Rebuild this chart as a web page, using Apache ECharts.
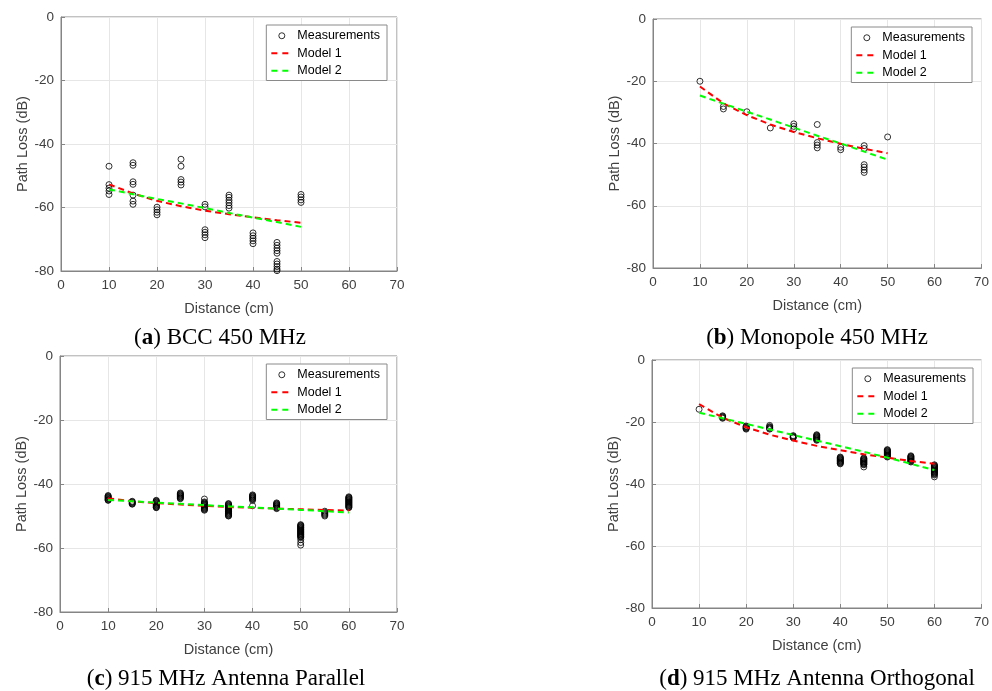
<!DOCTYPE html>
<html>
<head>
<meta charset="utf-8">
<script src="https://cdn.jsdelivr.net/npm/echarts@6/dist/echarts.min.js"></script>
<style>html,body{margin:0;padding:0;background:#fff;}#c{width:992px;height:691px;}</style>
</head>
<body>
<div id="c"></div>
<script>
// ---- data ----
var xTicks = [0, 10, 20, 30, 40, 50, 60, 70];
var yTicks = [0, -20, -40, -60, -80];
var seriesNames = ['Measurements', 'Model 1', 'Model 2'];
var captionsLetter = ['a', 'b', 'c', 'd'];
var captionsText = [' BCC 450 MHz', ' Monopole 450 MHz', ' 915 MHz Antenna Parallel', ' 915 MHz Antenna Orthogonal'];

var distAB = [10, 15, 20, 25, 30, 35, 40, 45, 50];
var distCD = [10, 15, 20, 25, 30, 35, 40, 45, 50, 55, 60];

// measurements: distance -> list of path loss values (dB)
var measA = {
  10: [-47, -52.8, -53.9, -54.8, -55.9],
  15: [-45.9, -46.7, -51.9, -52.7, -56.1, -58, -59],
  20: [-59.9, -60.7, -61.5, -62.3],
  25: [-44.8, -47, -51.2, -52, -52.9],
  30: [-59, -59.8, -67, -67.8, -68.6, -69.5],
  35: [-56.1, -56.8, -57.7, -58.5, -59.4, -60.2],
  40: [-68, -68.9, -69.7, -70.5, -71.4],
  45: [-71, -71.9, -72.8, -73.6, -74.4, -77, -77.8, -78.6, -79.4, -79.9],
  50: [-55.9, -56.7, -57.6, -58.4]
};
var model1A = [-52.7, -55.6, -57.9, -59.6, -61.0, -62.1, -63.1, -64.0, -64.8];
var model2A = [-54.3, -55.8, -57.3, -58.7, -60.2, -61.7, -63.2, -64.6, -66.1];

var measB = {
  10: [-20],
  15: [-28.1, -28.9],
  20: [-29.8],
  25: [-35],
  30: [-33.7, -34.5, -35.3],
  35: [-33.9, -39.7, -40.5, -41.4],
  40: [-41.2, -42],
  45: [-40.7, -41.6, -46.8, -47.6, -48.5, -49.3],
  50: [-37.9]
};
var model1B = [-21.7, -27.1, -30.9, -33.9, -36.3, -38.3, -40.1, -41.7, -43.1];
var model2B = [-24.6, -27.2, -29.8, -32.3, -34.9, -37.5, -40.0, -42.6, -45.2];

var measC = {
  10: [-43.6, -43.8, -44, -44.2, -44.4, -44.6, -44.8, -45, -45.1],
  15: [-45.4, -45.6, -45.8, -46, -46.2, -46.3],
  20: [-45.1, -45.3, -45.5, -45.7, -45.9, -46.1, -46.3, -46.5, -46.7, -46.9, -47.1, -47.3, -47.4],
  25: [-42.8, -43, -43.2, -43.4, -43.6, -43.8, -44, -44.2, -44.4, -44.6],
  30: [-44.7, -45.6, -45.8, -46, -46.2, -46.4, -46.6, -46.8, -47, -47.2, -47.4, -47.6, -47.8, -48, -48.2],
  35: [-46.1, -46.3, -46.5, -46.7, -46.9, -47.1, -47.3, -47.5, -47.7, -47.9, -48.1, -48.3, -48.5, -48.7, -48.9, -49.1, -49.3, -49.5, -49.7, -49.9, -50],
  40: [-43.4, -43.6, -43.8, -44, -44.2, -44.4, -44.6, -44.8, -45.1, -46.8],
  45: [-45.9, -46.1, -46.3, -46.5, -46.7, -46.9, -47.1, -47.3, -47.5, -47.7],
  50: [-52.7, -52.9, -53.1, -53.3, -53.5, -53.7, -53.9, -54.1, -54.3, -54.5, -54.7, -54.9, -55.1, -55.3, -55.5, -55.7, -55.9, -56.1, -56.3, -56.5, -56.7, -57.4, -58.3, -59.1],
  55: [-48.5, -48.8, -49.1, -49.4, -49.7, -50],
  60: [-44, -44.2, -44.4, -44.6, -44.8, -45, -45.2, -45.4, -45.6, -45.8, -46, -46.2, -46.4, -46.6, -46.8, -47, -47.2, -47.4]
};
var model1C = [-44.5, -45.4, -46.0, -46.4, -46.8, -47.2, -47.4, -47.7, -47.9, -48.1, -48.3];
var model2C = [-45.0, -45.4, -45.8, -46.2, -46.6, -47.0, -47.3, -47.7, -48.1, -48.5, -48.9];

var measD = {
  10: [-15.9],
  15: [-18, -18.2, -18.4, -18.6, -18.8],
  20: [-21.3, -21.5, -21.7, -21.9, -22.1, -22.3],
  25: [-21.1, -21.5, -21.7, -21.9, -22.1, -22.3],
  30: [-24.4, -24.6, -24.8, -25, -25.1],
  35: [-24.1, -24.3, -24.5, -24.7, -24.9, -25.1, -25.3, -25.5, -25.7, -25.9],
  40: [-31.3, -31.5, -31.7, -31.9, -32.1, -32.3, -32.5, -32.7, -32.9, -33.1, -33.3, -33.5],
  45: [-31.6, -31.8, -32, -32.2, -32.4, -32.6, -32.8, -33, -33.2, -33.4, -33.6, -33.8, -34.5],
  50: [-28.9, -29.1, -29.3, -29.5, -29.7, -29.9, -30.1, -30.3, -30.5, -30.7, -30.9, -31.1, -31.3],
  55: [-30.9, -31.1, -31.3, -31.5, -31.7, -31.9, -32.1, -32.3, -32.5, -32.7, -32.9],
  60: [-33.8, -34, -34.2, -34.4, -34.6, -34.8, -35, -35.2, -35.4, -35.6, -35.8, -36, -36.2, -36.4, -36.6, -36.8, -37.1, -37.7]
};
var model1D = [-14.2, -18.6, -21.7, -24.1, -26.0, -27.7, -29.1, -30.4, -31.5, -32.6, -33.5];
var model2D = [-17.0, -18.8, -20.6, -22.4, -24.2, -26.0, -27.8, -29.6, -31.5, -33.5, -35.5];

// ---- layout ----
var grids = [
  {left: 61, top: 17, width: 336, height: 254},
  {left: 653, top: 19, width: 329, height: 249},
  {left: 60, top: 356, width: 337, height: 256},
  {left: 652, top: 360, width: 331, height: 248}
];
var panels = [
  {meas: measA, dist: distAB, m1: model1A, m2: model2A},
  {meas: measB, dist: distAB, m1: model1B, m2: model2B},
  {meas: measC, dist: distCD, m1: model1C, m2: model2C},
  {meas: measD, dist: distCD, m1: model1D, m2: model2D}
];
var captionPos = [[220, 338], [817, 338], [226, 679], [817, 679]];

var axisGray = '#858585';
var labelColor = '#404040';
var sans = 'Liberation Sans, Arial, Helvetica, sans-serif';

function pairs(xs, ys) {
  var out = [];
  for (var i = 0; i < xs.length; i++) out.push([xs[i], ys[i]]);
  return out;
}
function flatten(meas) {
  var out = [];
  Object.keys(meas).forEach(function (k) {
    meas[k].forEach(function (v) { out.push([Number(k), v]); });
  });
  return out;
}

var option = {
  animation: false,
  backgroundColor: '#fff',
  grid: [], xAxis: [], yAxis: [], series: [], legend: [], graphic: []
};

grids.forEach(function (g, i) {
  option.grid.push({left: g.left, top: g.top, width: g.width, height: g.height,
    show: true, borderColor: axisGray, borderWidth: 1, backgroundColor: '#fff', containLabel: false});
  option.xAxis.push({
    type: 'value', gridIndex: i, min: xTicks[0], max: xTicks[xTicks.length - 1], interval: 10,
    name: 'Distance (cm)', nameLocation: 'middle', nameGap: 30,
    nameTextStyle: {fontFamily: sans, fontSize: 14.5, color: labelColor},
    axisLine: {show: true, onZero: false, lineStyle: {color: axisGray, width: 1}},
    axisTick: {show: true, inside: true, length: 4, lineStyle: {color: axisGray}},
    axisLabel: {fontFamily: sans, fontSize: 13.5, color: labelColor, margin: 7},
    splitLine: {show: true, lineStyle: {color: '#e6e6e6', width: 1}}
  });
  option.yAxis.push({
    type: 'value', gridIndex: i, min: yTicks[yTicks.length - 1], max: yTicks[0], interval: 20,
    name: 'Path Loss (dB)', nameLocation: 'middle', nameGap: 31, nameRotate: 90,
    nameTextStyle: {fontFamily: sans, fontSize: 14.5, color: labelColor},
    axisLine: {show: true, onZero: false, lineStyle: {color: axisGray, width: 1}},
    axisTick: {show: true, inside: true, length: 4, lineStyle: {color: axisGray}},
    axisLabel: {fontFamily: sans, fontSize: 13.5, color: labelColor, margin: 7},
    splitLine: {show: true, lineStyle: {color: '#e6e6e6', width: 1}}
  });
  var p = panels[i];
  option.series.push({
    name: seriesNames[0], type: 'scatter', xAxisIndex: i, yAxisIndex: i,
    symbol: 'circle', symbolSize: 6, data: flatten(p.meas), z: 3,
    itemStyle: {color: 'rgba(255,255,255,0)', borderColor: '#000', borderWidth: 1}
  });
  option.series.push({
    name: seriesNames[1], type: 'line', xAxisIndex: i, yAxisIndex: i, smooth: false,
    showSymbol: false, symbol: 'none', data: pairs(p.dist, p.m1), z: 4,
    lineStyle: {color: '#ff0000', width: 2, type: [6, 4]}, itemStyle: {color: '#ff0000'}
  });
  option.series.push({
    name: seriesNames[2], type: 'line', xAxisIndex: i, yAxisIndex: i, smooth: false,
    showSymbol: false, symbol: 'none', data: pairs(p.dist, p.m2), z: 5,
    lineStyle: {color: '#00ff00', width: 2, type: [6, 4]}, itemStyle: {color: '#00ff00'}
  });
  option.legend.push({
    data: [
      {name: seriesNames[0]},
      {name: seriesNames[1], itemStyle: {opacity: 0}},
      {name: seriesNames[2], itemStyle: {opacity: 0}}
    ],
    orient: 'vertical',
    right: 992 - (g.left + g.width) + 10, top: g.top + 8,
    backgroundColor: '#fff', borderColor: '#8a8a8a', borderWidth: 1,
    padding: [4, 7, 3, 4], itemGap: 4, itemWidth: 21, itemHeight: 6,
    selectedMode: false,
    textStyle: {fontFamily: sans, fontSize: 12.5, color: '#000', lineHeight: 13.5},
    itemStyle: {borderWidth: 1},
    lineStyle: {width: 2, type: [6, 5]}
  });
  option.graphic.push({
    type: 'text', x: captionPos[i][0], y: captionPos[i][1],
    style: {
      text: '({b|' + captionsLetter[i] + '})' + captionsText[i],
      fill: '#000', font: '23px "Liberation Serif", "DejaVu Serif", serif',
      align: 'center', verticalAlign: 'middle',
      rich: {b: {fontWeight: 'bold', fontSize: 23, fontFamily: 'Liberation Serif'}}
    }
  });
});

var chart = echarts.init(document.getElementById('c'), null, {renderer: 'canvas'});
chart.setOption(option);
</script>
</body>
</html>
